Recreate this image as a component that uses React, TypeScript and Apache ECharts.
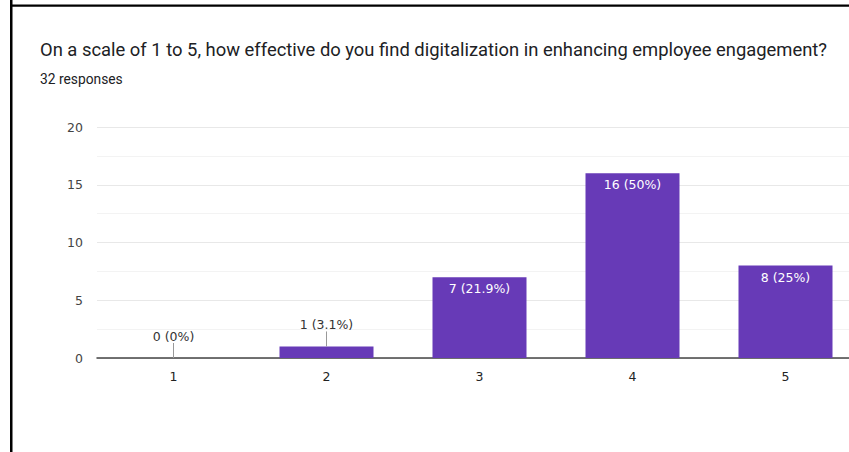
import React, { useEffect, useRef } from "react";
import * as echarts from "echarts";

const titleText =
  "On a scale of 1 to 5, how effective do you find digitalization in enhancing employee engagement?";
const subtitleText = "32 responses";
const categories = ["1", "2", "3", "4", "5"];
const counts = [0, 1, 7, 16, 8];
const percentLabels = ["0%", "3.1%", "21.9%", "50%", "25%"];
const yTicks = [0, 5, 10, 15, 20];

const PURPLE = "#673ab7";
const FONT = "'DejaVu Sans', sans-serif";
const CHART_W = 880;

export default function App() {
  const ref = useRef<HTMLDivElement>(null);
  useEffect(() => {
    if (!ref.current) return;
    const chart = echarts.init(ref.current, undefined, { renderer: "svg" });
    const smallIdx = counts.map((v, i) => (v < 2 ? i : -1)).filter((i) => i >= 0);
    const option: any = {
      animation: false,
      backgroundColor: "#ffffff",
      title: [
        {
          text: titleText,
          left: 40,
          top: 40,
          padding: 0,
          textStyle: { fontFamily: "Roboto", fontSize: 18.4, fontWeight: "normal", color: "#202124" },
        },
        {
          text: subtitleText,
          left: 40,
          top: 72,
          padding: 0,
          textStyle: { fontFamily: "Roboto", fontSize: 13.8, fontWeight: "normal", color: "#202124" },
        },
      ],
      graphic: [
        { type: "rect", shape: { x: 10, y: 0, width: 2.5, height: 452 }, style: { fill: "#000" } },
        { type: "rect", shape: { x: 10, y: 4.5, width: 839, height: 2.3 }, style: { fill: "#000" } },
      ],
      grid: { left: 97, right: CHART_W - 862, top: 127, bottom: 452 - 358, containLabel: false },
      xAxis: {
        type: "category",
        data: categories,
        axisTick: { show: false },
        axisLine: { lineStyle: { color: "#444", width: 1.5 } },
        axisLabel: { color: "#222", fontSize: 12.5, fontFamily: FONT, margin: 12 },
      },
      yAxis: {
        type: "value",
        min: yTicks[0],
        max: yTicks[yTicks.length - 1],
        interval: 5,
        axisLine: { show: false },
        axisTick: { show: false },
        axisLabel: { color: "#444", fontSize: 12.5, fontFamily: FONT, margin: 14 },
        splitLine: { lineStyle: { color: "#e8e8e8", width: 1 } },
        minorTick: { show: false, splitNumber: 2 },
        minorSplitLine: { show: true, lineStyle: { color: "#f3f3f3", width: 1 } },
      },
      series: [
        {
          type: "bar",
          barWidth: 94,
          itemStyle: { color: PURPLE },
          label: {
            show: true,
            position: "insideTop",
            distance: 5,
            color: "#ffffff",
            fontSize: 12.5,
            fontFamily: FONT,
            formatter: (p: any) => `${counts[p.dataIndex]} (${percentLabels[p.dataIndex]})`,
          },
          data: counts.map((v) =>
            v < 2
              ? { value: v, label: { position: "top", distance: 15.5, color: "#333" } }
              : v
          ),
        },
        {
          type: "custom",
          silent: true,
          data: smallIdx.map((i) => [i, counts[i]]),
          renderItem: (params: any, api: any) => {
            const pt = api.coord([api.value(0), api.value(1)]);
            return {
              type: "line",
              shape: { x1: pt[0], y1: pt[1], x2: pt[0], y2: pt[1] - 15 },
              style: { stroke: "#999", lineWidth: 1 },
            };
          },
          z: 5,
        },
      ],
    };
    chart.setOption(option);
    return () => chart.dispose();
  }, []);
  return (
    <div
      style={{
        position: "fixed",
        left: 0,
        top: 0,
        width: 849,
        height: 452,
        overflow: "hidden",
        background: "#fff",
      }}
    >
      <div ref={ref} style={{ width: CHART_W, height: 452 }} />
    </div>
  );
}
